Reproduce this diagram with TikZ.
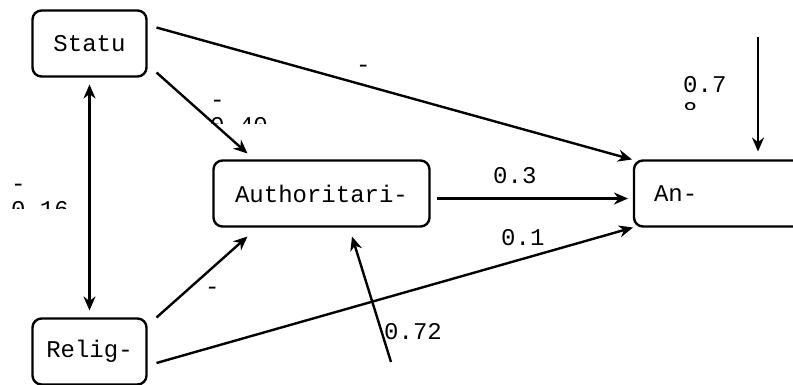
\documentclass[tikz,border=0pt]{standalone}
\usepackage{fontspec}
\setmonofont{Liberation Mono}
\usetikzlibrary{arrows.meta}
\begin{document}
\begin{tikzpicture}[x=1pt,y=-1pt,
  every node/.style={font=\ttfamily\fontsize{24}{26}\selectfont},
  box/.style={draw, line width=2.4pt, rounded corners=9pt, minimum width=#1,
    minimum height=66pt, inner sep=0pt, outer sep=0pt},
  conn/.style={line width=2.4pt, -{Stealth[length=14pt,width=12pt,inset=4.5pt]}},
  biconn/.style={line width=2.4pt, {Stealth[length=14pt,width=12pt,inset=4.5pt]}-{Stealth[length=14pt,width=12pt,inset=4.5pt]}},
  lbl/.style={anchor=base west, inner sep=0pt}]
\useasboundingbox (0,0) rectangle (793,384);
\clip (0,0) rectangle (793,384);

% variables
\node[box=114pt] (statu) at (89.5,43.5) {Statu};
\node[box=216pt] (auth) at (321.5,193.5) {Authoritari-};
\node[box=200pt, text width=160pt, align=left, inner xsep=20pt] (an) at (734,193.5) {An-};
\node[box=114pt] (relig) at (89.5,351.5) {Relig-};

% error terms
\coordinate (e1) at (391,362);
\coordinate (e2) at (758,37);

% paths
\draw[conn] ([shift={(10,17)}]statu.north east) -- ([shift={(-2,-1)}]an.north west);
\draw[conn] ([shift={(10,-4)}]statu.south east) -- ([shift={(34,-7)}]auth.north west);
\draw[biconn] ([shift={(0,8)}]statu.south) -- ([shift={(0,-8)}]relig.north);
\draw[conn] ([shift={(10,-1)}]relig.north east) -- ([shift={(34,10)}]auth.south west);
\draw[conn] ([shift={(10,11.5)}]relig.east) -- ([shift={(-1,1)}]an.south west);
\draw[conn] ([shift={(7,5)}]auth.east) -- ([shift={(-6,5)}]an.west);
\draw[conn] (e1) -- ([shift={(30.5,10)}]auth.south);
\draw[conn] (e2) -- ([shift={(24,-9)}]an.north);

% coefficients
\node[lbl] (c1) at (356,72) {-};
\begin{scope}
  \clip (200,80) rectangle (280,123);
  \node[lbl] (c2) at (210,107) {-};
  \node[lbl] (c2b) at (210,133) {0.40};
\end{scope}
\begin{scope}
  \clip (0,160) rectangle (80,208);
  \node[lbl] (c3) at (11,191) {-};
  \node[lbl] (c3b) at (11,217) {0.16};
\end{scope}
\node[lbl] (c4) at (205,294) {-};
\node[lbl] (c5) at (501,245) {0.1};
\node[lbl] (c6) at (493,183) {0.3};
\node[lbl] (c7) at (384,339) {0.72};
\begin{scope}
  \clip (670,60) rectangle (740,109);
  \node[lbl] (c8) at (683,92) {0.7};
  \node[lbl] (c8b) at (683,118) {8};
\end{scope}
\end{tikzpicture}
\end{document}
